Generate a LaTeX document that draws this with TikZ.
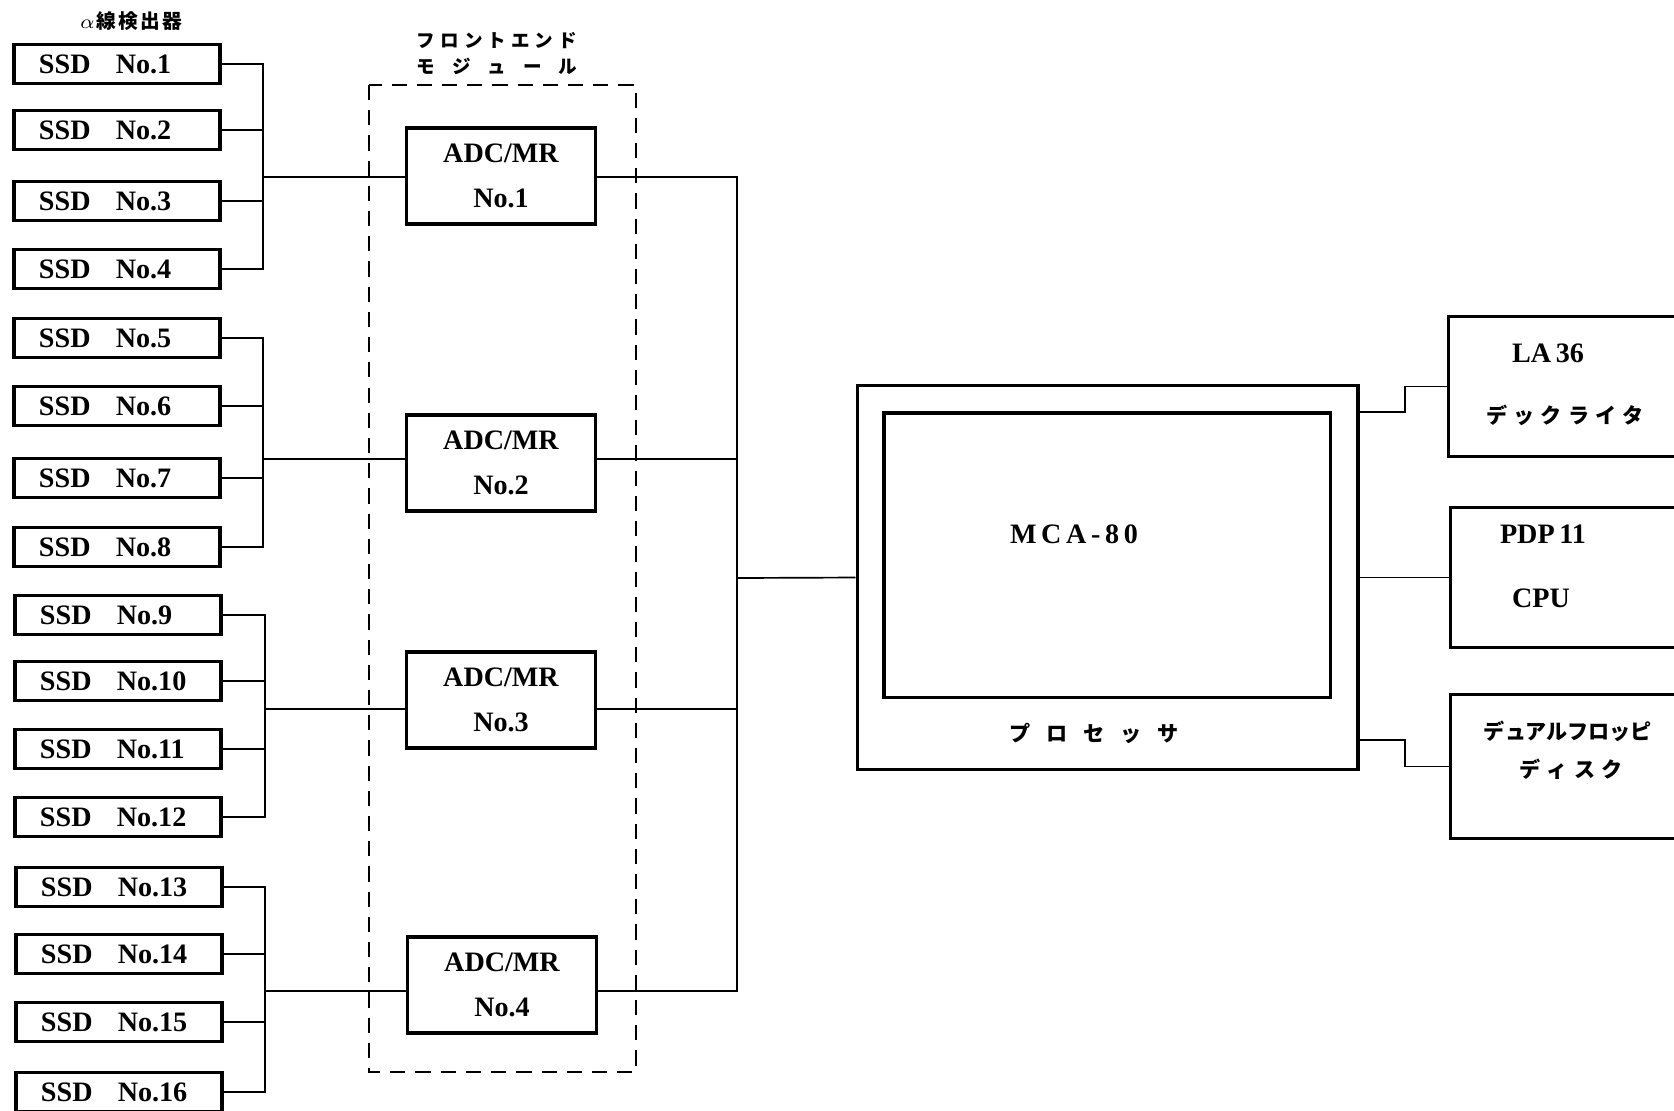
\documentclass[tikz,border=0pt]{standalone}
\usepackage{fontspec}
\setmainfont{Liberation Serif}
\newfontfamily\jpfont{Noto Sans CJK JP}

\newcommand{\spreadtext}[2]{\makebox[#1][s]{#2}}
\newcommand{\ssdlabel}[1]{\makebox[1.95cm][l]{\makebox[0.96cm][l]{SSD}No.#1}}

\begin{document}
\begin{tikzpicture}[x=0.0125cm,y=-0.0125cm,line width=0.6pt,
    ssd/.style={draw,line width=1.1pt,minimum width=2.575cm,minimum height=0.49cm,inner sep=0pt,
      font=\bfseries\fontsize{10}{12}\selectfont},
    adc/.style={draw,line width=1.1pt,minimum width=2.37cm,minimum height=1.2cm,inner sep=0pt,align=center,
      font=\bfseries\fontsize{10}{16.2}\selectfont},
    outbox/.style={draw,line width=1.1pt,minimum width=3.75cm,anchor=west,inner sep=0pt},
    jp/.style={font=\jpfont\bfseries\fontsize{7.5}{9}\selectfont,inner sep=0pt},
    jpsmall/.style={font=\jpfont\bfseries\fontsize{6.6}{8}\selectfont,inner sep=0pt},
    lat/.style={font=\bfseries\fontsize{10}{12}\selectfont,inner sep=0pt}]
   \useasboundingbox (0,0) rectangle (1674,1110);
   \clip (0,0) rectangle (1674,1110);
   %% detectors
   \node[jpsmall,font=\jpfont\bfseries\fontsize{7}{8}\selectfont] (alphalbl) at (131,21)
      {\spreadtext{1.27cm}{$\alpha$\hfil 線\hfil 検\hfil 出\hfil 器}};
   \node[ssd] (ssd1) at (117,64) {\ssdlabel{1}};
   \node[ssd] (ssd2) at (117,130) {\ssdlabel{2}};
   \node[ssd] (ssd3) at (117,201) {\ssdlabel{3}};
   \node[ssd] (ssd4) at (117,269) {\ssdlabel{4}};
   \node[ssd] (ssd5) at (117,338) {\ssdlabel{5}};
   \node[ssd] (ssd6) at (117,406) {\ssdlabel{6}};
   \node[ssd] (ssd7) at (117,478) {\ssdlabel{7}};
   \node[ssd] (ssd8) at (117,547) {\ssdlabel{8}};
   \node[ssd] (ssd9) at (118,615) {\ssdlabel{9}};
   \node[ssd] (ssd10) at (118,681) {\ssdlabel{10}};
   \node[ssd] (ssd11) at (118,749) {\ssdlabel{11}};
   \node[ssd] (ssd12) at (118,817) {\ssdlabel{12}};
   \node[ssd] (ssd13) at (119,887) {\ssdlabel{13}};
   \node[ssd] (ssd14) at (119,954) {\ssdlabel{14}};
   \node[ssd] (ssd15) at (119,1022) {\ssdlabel{15}};
   \node[ssd] (ssd16) at (119,1092) {\ssdlabel{16}};
   %% front end module
   \node[jpsmall] (femlbl1) at (497,41) {\spreadtext{2.0cm}{フ\hfil ロ\hfil ン\hfil ト\hfil エ\hfil ン\hfil ド}};
   \node[jpsmall] (femlbl2) at (497,66) {\spreadtext{2.0cm}{モ\hfil ジ\hfil ュ\hfil ー\hfil ル}};
   \draw[line width=0.8pt,dash pattern=on 0.19cm off 0.125cm] (369,85) rectangle (636,1072);
   \node[adc] (adc1) at (501,176) {ADC/MR\\No.1};
   \node[adc] (adc2) at (501,463) {ADC/MR\\No.2};
   \node[adc] (adc3) at (501,700) {ADC/MR\\No.3};
   \node[adc] (adc4) at (502,985) {ADC/MR\\No.4};
   %% processor
   \node[draw,line width=1.1pt,minimum width=6.26cm,minimum height=4.79cm] (mca) at (1107.5,577.5) {};
   \node[draw,line width=1.1pt,minimum width=5.575cm,minimum height=3.55cm] (mcain) at (1107,555) {};
   \node[lat] (mcalbl) at (1074,534) {\spreadtext{1.6cm}{M\hfil C\hfil A\hfil -\hfil 8\hfil 0}};
   \node[jp] (proclbl) at (1094,733) {\spreadtext{2.12cm}{プ\hfil ロ\hfil セ\hfil ッ\hfil サ}};
   %% peripherals
   \node[outbox,minimum height=1.76cm] (la) at (1447,386.5) {};
   \node[lat] (lalbl) at (1548,353) {LA\,36};
   \node[jp] (lajp) at (1565,415) {\spreadtext{1.96cm}{デ\hfil ッ\hfil ク\hfil ラ\hfil イ\hfil タ}};
   \node[outbox,minimum height=1.76cm] (pdp) at (1449,577.5) {};
   \node[lat] (pdplbl) at (1543,534) {PDP\,11};
   \node[lat] (cpulbl) at (1541,598) {CPU};
   \node[outbox,minimum height=1.79cm] (fdd) at (1449,766.5) {};
   \node[jp] (fddlbl1) at (1568,731) {デュアルフロッピ};
   \node[jp] (fddlbl2) at (1571,769) {\spreadtext{1.28cm}{デ\hfil ィ\hfil ス\hfil ク}};
   %% detector buses
   \coordinate (ba) at (263,177);
   \coordinate (bb) at (263,459);
   \coordinate (bc) at (265,709);
   \coordinate (bd) at (265,991);
   \draw (ssd1.east) -| (ba);
   \draw (ssd4.east) -| (ba);
   \draw (ssd2.east) -- (ssd2.east -| ba);
   \draw (ssd3.east) -- (ssd3.east -| ba);
   \draw (ssd5.east) -| (bb);
   \draw (ssd8.east) -| (bb);
   \draw (ssd6.east) -- (ssd6.east -| bb);
   \draw (ssd7.east) -- (ssd7.east -| bb);
   \draw (ssd9.east) -| (bc);
   \draw (ssd12.east) -| (bc);
   \draw (ssd10.east) -- (ssd10.east -| bc);
   \draw (ssd11.east) -- (ssd11.east -| bc);
   \draw (ssd13.east) -| (bd);
   \draw (ssd16.east) -| (bd);
   \draw (ssd14.east) -- (ssd14.east -| bd);
   \draw (ssd15.east) -- (ssd15.east -| bd);
   \draw (ba) -- (ba -| adc1.west);
   \draw (bb) -- (bb -| adc2.west);
   \draw (bc) -- (bc -| adc3.west);
   \draw (bd) -- (bd -| adc4.west);
   %% adc bus to processor
   \coordinate (rb) at (737,578);
   \draw (adc1.east |- ba) -| (rb);
   \draw (adc4.east |- bd) -| (rb);
   \draw (adc2.east |- bb) -- (rb |- bb);
   \draw (adc3.east |- bc) -- (rb |- bc);
   \draw (rb) -- (mca.west);
   %% processor to peripherals
   \coordinate (ja) at (1405,412);
   \coordinate (jc) at (1405,740);
   \draw (mca.east |- ja) -- (ja) |- (la.west);
   \draw (mca.east) -- (pdp.west);
   \draw (mca.east |- jc) -- (jc) |- (fdd.west);
\end{tikzpicture}
\end{document}
